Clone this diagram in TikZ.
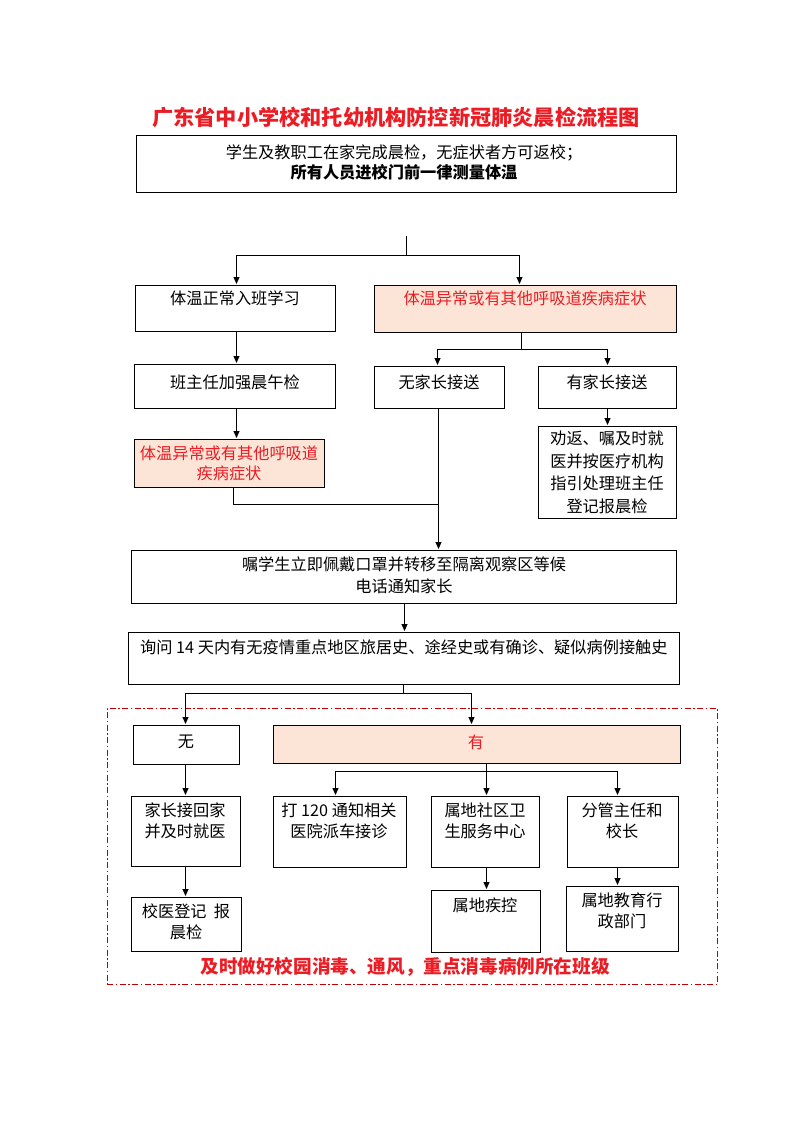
\documentclass[tikz,border=0pt]{standalone}
\usepackage{fontspec}
\setmainfont{Noto Sans CJK SC}
\usetikzlibrary{arrows.meta,calc}
\definecolor{peach}{RGB}{252,228,214}
\definecolor{tred}{RGB}{236,28,36}
\definecolor{dred}{RGB}{192,0,0}
\begin{document}
\begin{tikzpicture}[x=1pt,y=-1pt,
  box/.style={draw=black,line width=1pt,anchor=north west,inner sep=0pt},
  pbox/.style={box,fill=peach},
  txt/.style={inner sep=0pt,align=center,font=\fontsize{16.2pt}{21pt}\selectfont},
  rtxt/.style={txt,text=tred},
  line/.style={draw=black,line width=1pt},
  arr/.style={line,-{Triangle[length=7pt,width=6pt]}},
  dashbox/.style={draw=dred,line width=0.9pt,dash pattern=on 6pt off 2.5pt on 1.5pt off 2.5pt}
]
\useasboundingbox (0,0) rectangle (793,1122);

% title
\node[inner sep=0pt,text=tred,font=\fontsize{21.2pt}{24pt}\selectfont\bfseries] (title) at (396,117) {广东省中小学校和托幼机构防控新冠肺炎晨检流程图};

% boxes
\node[box,minimum width=540pt,minimum height=57pt] (top) at (136,135) {};
\node[txt] (top1) at (404,153) {学生及教职工在家完成晨检，无症状者方可返校；};
\node[txt,font=\fontsize{16.2pt}{21pt}\selectfont\bfseries] (top2) at (404,172) {所有人员进校门前一律测量体温};

\node[box,minimum width=200pt,minimum height=46pt] (A) at (135,285) {};
\node[txt] (tA) at (235,298) {体温正常入班学习};
\node[pbox,minimum width=302pt,minimum height=47pt] (B) at (374,285) {};
\node[rtxt] (tB) at (525,298) {体温异常或有其他呼吸道疾病症状};

\node[box,minimum width=201pt,minimum height=44pt] (C) at (134,364) {};
\node[txt] (tC) at (235,382) {班主任加强晨午检};
\node[box,minimum width=130pt,minimum height=42pt] (D) at (374,366) {};
\node[txt] (tD) at (439,382) {无家长接送};
\node[box,minimum width=138pt,minimum height=42pt] (E) at (538,366) {};
\node[txt] (tE) at (607,382) {有家长接送};

\node[box,minimum width=138pt,minimum height=92pt] (F) at (538,426) {};
\node[txt,font=\fontsize{16.2pt}{22.5pt}\selectfont,anchor=north] (tF) at (607,431) {劝返、嘱及时就\\医并按医疗机构\\指引处理班主任\\登记报晨检};

\node[pbox,minimum width=190pt,minimum height=48pt] (G) at (134,439) {};
\node[rtxt,font=\fontsize{16.2pt}{20pt}\selectfont,anchor=north] (tG) at (229,446) {体温异常或有其他呼吸道\\疾病症状};

\node[box,minimum width=545pt,minimum height=53pt] (H) at (131,550) {};
\node[txt,font=\fontsize{16.2pt}{22pt}\selectfont,anchor=north] (tH) at (404,557) {嘱学生立即佩戴口罩并转移至隔离观察区等候\\电话通知家长};

\node[box,minimum width=551pt,minimum height=52pt] (I) at (128,632) {};
\node[txt,anchor=west] (tI) at (140,647) {询问 14 天内有无疫情重点地区旅居史、途经史或有确诊、疑似病例接触史};

% dashed region
\node[dashbox,anchor=north west,inner sep=0pt,minimum width=610pt,minimum height=276pt] (zone) at (107,708) {};

\node[box,minimum width=106pt,minimum height=39pt] (J) at (133,725) {};
\node[txt] (tJ) at (186,742) {无};
\node[pbox,minimum width=407pt,minimum height=38pt] (K) at (273,725) {};
\node[rtxt] (tK) at (476,742) {有};

\node[box,minimum width=109pt,minimum height=70pt] (L) at (131,796) {};
\node[txt,font=\fontsize{16.2pt}{20.5pt}\selectfont,anchor=north] (tL) at (185,803) {家长接回家\\并及时就医};
\node[box,minimum width=133pt,minimum height=71pt] (M) at (273,796) {};
\node[txt,font=\fontsize{16.2pt}{20.5pt}\selectfont,anchor=north] (tM) at (339,803) {打 120 通知相关\\医院派车接诊};
\node[box,minimum width=108pt,minimum height=71pt] (N) at (431,796) {};
\node[txt,font=\fontsize{16.2pt}{20.5pt}\selectfont,anchor=north] (tN) at (485,803) {属地社区卫\\生服务中心};
\node[box,minimum width=111pt,minimum height=71pt] (O) at (567,796) {};
\node[txt,font=\fontsize{16.2pt}{20.5pt}\selectfont,anchor=north] (tO) at (622,803) {分管主任和\\校长};

\node[box,minimum width=110pt,minimum height=54pt] (P) at (131,897) {};
\node[txt,font=\fontsize{16.2pt}{20.5pt}\selectfont,anchor=north] (tP) at (186,904) {校医登记\ \ 报\\晨检};
\node[box,minimum width=109pt,minimum height=62pt] (Q) at (431,890) {};
\node[txt] (tQ) at (485,905) {属地疾控};
\node[box,minimum width=112pt,minimum height=65pt] (R) at (566,886) {};
\node[txt,font=\fontsize{16.2pt}{21pt}\selectfont,anchor=north] (tR) at (622,893) {属地教育行\\政部门};

\node[inner sep=0pt,text=tred,font=\fontsize{18.6pt}{22pt}\selectfont\bfseries] (foot) at (405,967) {及时做好校园消毒、通风，重点消毒病例所在班级};

% connectors
\coordinate (s0) at (406,236);
\coordinate (s1) at (406,255);
\draw[line] (s0) -- (s1);
\draw[arr] (s1) -| ($(A.north)+(1,-1)$);
\draw[arr] (s1) -| ($(B.north)+(-6,-1)$);
\draw[arr] ($(A.south)+(1,0)$) -- ($(C.north)+(1.5,-1)$);

\coordinate (b0) at ($(B.south)+(-4,0)$);
\coordinate (b1) at ($(B.south)+(-4,16)$);
\draw[line] (b0) -- (b1);
\draw[arr] (b1) -| ($(D.north)+(-2,-1)$);
\draw[arr] (b1) -| ($(E.north)+(0,-1)$);
\draw[arr] (E.south) -- ($(F.north)+(0,-1)$);

\draw[arr] ($(C.south)+(1.5,0)$) -- ($(G.north)+(7,-1)$);
\coordinate (d0) at ($(D.south)+(-1,0)$);
\coordinate (g1) at ($(G.south)+(4,16)$);
\draw[line] ($(G.south)+(4,0)$) -- (g1) -- (g1 -| d0);
\draw[arr] (d0) -- ($(d0 |- H.north)+(0,-1)$);

\coordinate (h0) at ($(H.south)+(0.5,0)$);
\draw[arr] (h0) -- ($(h0 |- I.north)+(0,-1)$);

\coordinate (i1) at ($(I.south)+(-0.5,8)$);
\draw[line] ($(I.south)+(-0.5,0)$) -- (i1);
\draw[arr] (i1) -| ($(J.north)+(-1,-1)$);
\draw[arr] (i1) -| ($(K.north)+(-5.5,-1)$);

\draw[arr] ($(J.south)+(-1,0)$) -- ($(L.north)+(-0.5,-1)$);
\coordinate (k1) at ($(K.south)+(9.5,7)$);
\draw[line] ($(K.south)+(9.5,0)$) -- (k1);
\draw[arr] (k1) -| ($(M.north)+(-4.5,-1)$);
\draw[arr] (k1) -- ($(N.north)+(1,-1)$);
\draw[arr] (k1) -| ($(O.north)+(-5.5,-1)$);

\draw[arr] ($(L.south)+(-0.5,0)$) -- ($(P.north)+(-1,-1)$);
\draw[arr] ($(N.south)+(1,0)$) -- ($(Q.north)+(0.5,-1)$);
\draw[arr] ($(O.south)+(-5.5,0)$) -- ($(R.north)+(-5,-1)$);
\end{tikzpicture}
\end{document}
